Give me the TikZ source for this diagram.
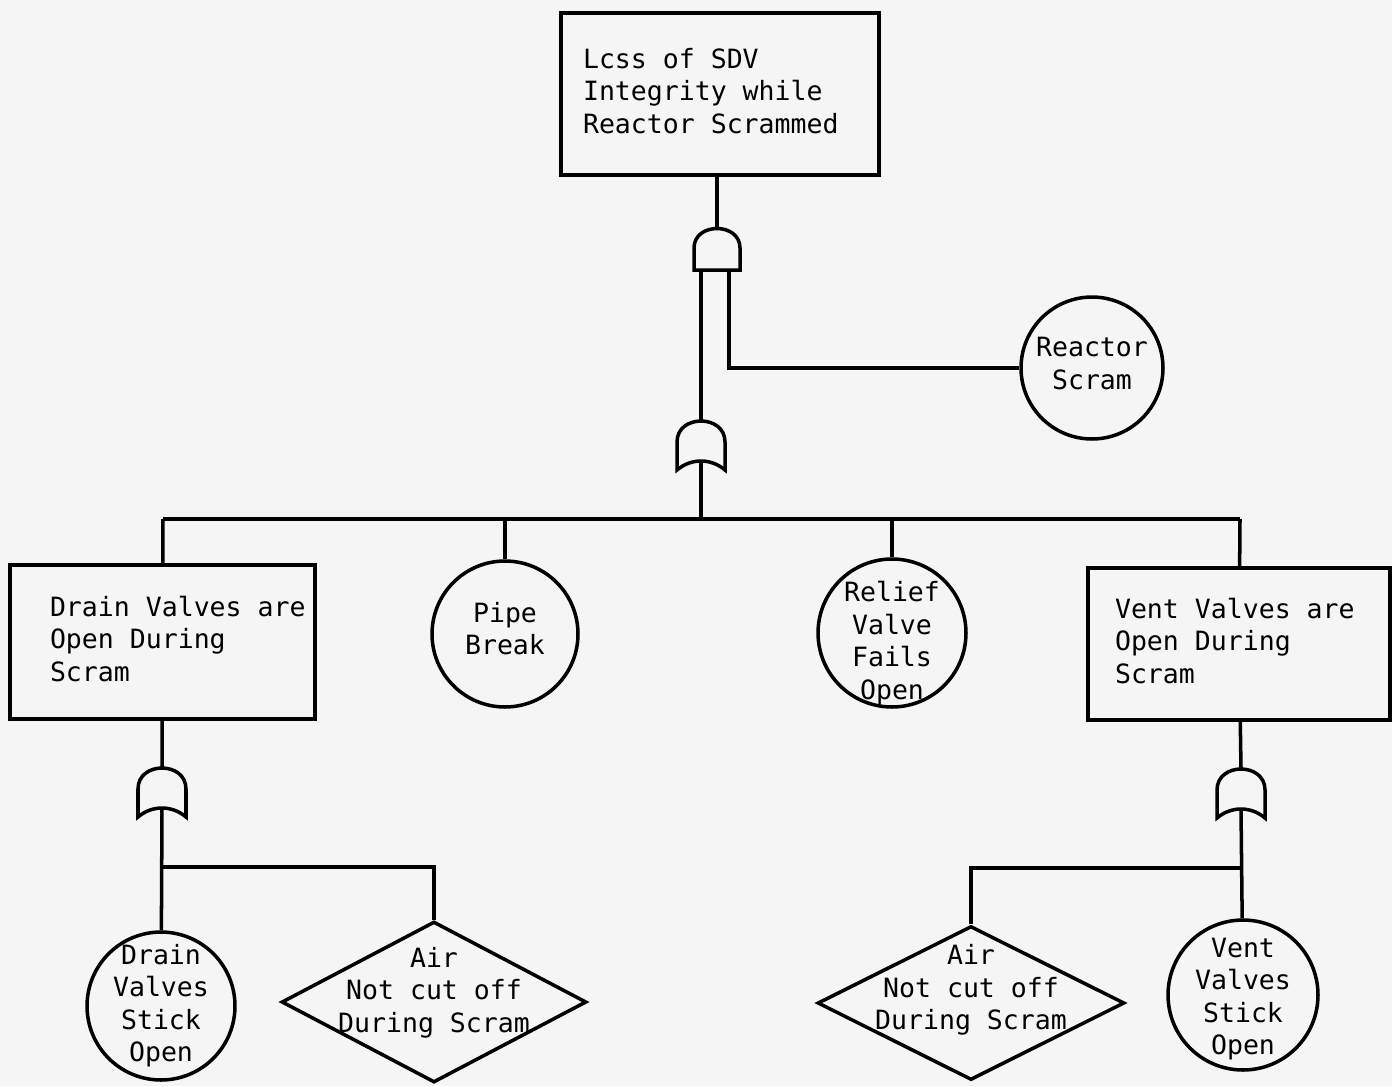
\documentclass[tikz,border=0pt]{standalone}
\usepackage{fontspec}
\setmainfont{DejaVu Sans Mono}
\usetikzlibrary{shapes.geometric}

\newcommand\evtext[2][0pt]{\raisebox{#1}{\smash{\begin{tabular}{@{}c@{}}#2\end{tabular}}}}
\newcommand\boxtext[3][0pt]{\makebox[#2][l]{\raisebox{#1}{\begin{tabular}{@{}l@{}}#3\end{tabular}}}}

\begin{document}
\begin{tikzpicture}[x=0.02cm, y=-0.02cm, line width=2pt,
        every node/.style={font=\fontsize{15.1pt}{18.5pt}\selectfont},
        evbox/.style={draw, rectangle, inner sep=0pt},
        evcirc/.style={draw, circle, inner sep=0pt},
        evdiam/.style={draw, diamond, inner sep=0pt, shape aspect=1.9},
        andgate/.pic={
            \draw (-23,0) -- (-23,-22) .. controls (-23,-48) and (23,-48) .. (23,-22) -- (23,0) -- cycle;
            \coordinate (-out) at (0,-42);
            \coordinate (-inl) at (-16,0);
            \coordinate (-inr) at (12,0);
        },
        orgate/.pic={
            \draw (-24,0) -- (-24,-28) .. controls (-24,-56) and (24,-56) .. (24,-28) -- (24,0) .. controls (10,-12) and (-10,-12) .. cycle;
            \coordinate (-out) at (0,-50);
            \coordinate (-in) at (0,-9);
        }]
        \fill[black!4] (0,0) rectangle (1392,1086);
        \useasboundingbox (0,0) rectangle (1392,1086);

        \node[evbox, minimum width=6.36cm, minimum height=3.24cm] (loss) at (720,94)
            {\boxtext[-0.15cm]{5.48cm}{Lcss of SDV\\Integrity while\\Reactor Scrammed}};

        \pic (andg) at (717,270) {andgate};
        \pic (org) at (701,470) {orgate};

        \node[evcirc, minimum size=2.84cm] (scram) at (1092,368) {\evtext[-0.2cm]{Reactor\\Scram}};

        \coordinate (busL) at (163,519);
        \coordinate (busR) at (1240,519);

        \node[evbox, minimum width=6.1cm, minimum height=3.08cm] (drainbox) at (162.5,642)
            {\boxtext[0.08cm]{4.5cm}{Drain Valves are\\Open During\\Scram}};
        \node[evcirc, minimum size=2.92cm] (pipe) at (505,634) {\evtext[-0.18cm]{Pipe\\Break}};
        \node[evcirc, minimum size=2.96cm] (relief) at (892,633) {\evtext[-0.69cm]{Relief\\Valve\\Fails\\Open}};
        \node[evbox, minimum width=6.04cm, minimum height=3.04cm] (ventbox) at (1239,644)
            {\boxtext[-0.12cm]{4.96cm}{Vent Valves are\\Open During\\Scram}};

        \pic (orl) at (162,817) {orgate};
        \pic (orr) at (1241,818) {orgate};

        \coordinate (jl) at (162,867);
        \coordinate (jr) at (1241,868);

        \node[evcirc, minimum size=2.96cm] (drainstick) at (161,1006) {\evtext[-0.28cm]{Drain\\Valves\\Stick\\Open}};
        \node[evdiam, minimum width=6.1cm, minimum height=3.22cm] (airl) at (434,1002) {\evtext[0.1cm]{Air\\Not cut off\\During Scram}};
        \node[evdiam, minimum width=6.14cm, minimum height=3.08cm] (airr) at (971,1003) {\evtext[0.23cm]{Air\\Not cut off\\During Scram}};
        \node[evcirc, minimum size=3.0cm] (ventstick) at (1243,995) {\evtext[-0.43cm]{Vent\\Valves\\Stick\\Open}};

        \draw (loss.south -| andg-out) -- (andg-out);
        \draw (andg-inl) -- (org-out);
        \draw (andg-inr) |- (scram);
        \draw (org-in) -- (org-in |- busL);
        \draw (busL) -- (busR);

        \draw (busL) -- (drainbox);
        \draw (pipe) -- (pipe |- busL);
        \draw (relief) -- (relief |- busL);
        \draw (busR) -- (ventbox);

        \draw (drainbox) -- (orl-out);
        \draw (orl-in) -- (drainstick);
        \draw (jl) -| (airl);

        \draw (ventbox) -- (orr-out);
        \draw (orr-in) -- (ventstick);
        \draw (jr) -| (airr);
    \end{tikzpicture}
\end{document}
